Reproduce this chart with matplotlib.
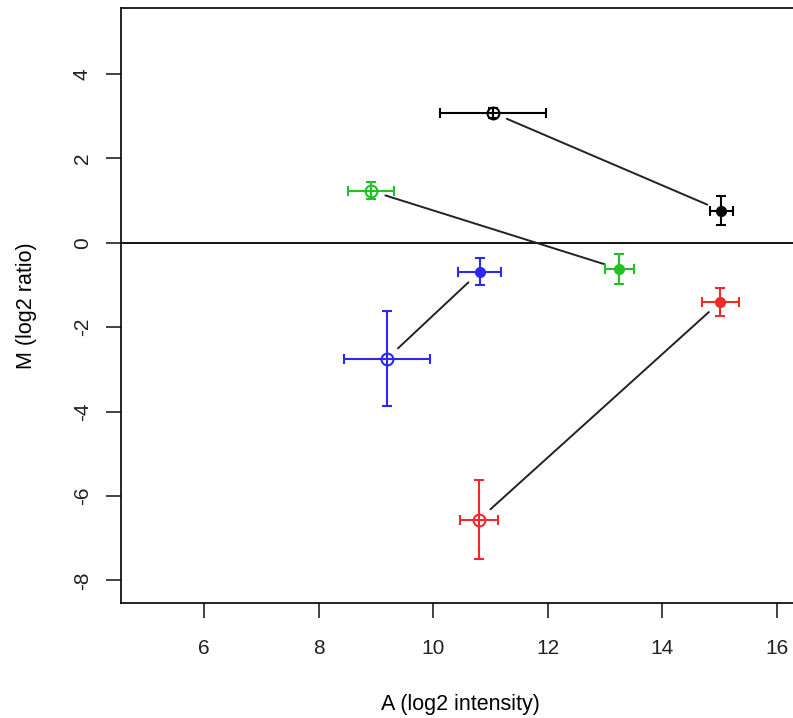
import matplotlib
matplotlib.use("Agg")
import matplotlib.pyplot as plt

plt.rcParams['font.family'] = ['Liberation Sans', 'DejaVu Sans']

# open (first) and filled (second) points for each colour group
colors = ['black', '#22c022', '#2a2aee', '#ee2a2a']

open_A = [11.04, 8.91, 9.19, 10.80]
open_M = [3.08, 1.23, -2.75, -6.56]
open_A_err = [0.93, 0.40, 0.75, 0.33]
open_M_err = [0.12, 0.20, 1.13, 0.94]

fill_A = [15.03, 13.25, 10.81, 15.01]
fill_M = [0.76, -0.62, -0.69, -1.40]
fill_A_err = [0.20, 0.25, 0.37, 0.32]
fill_M_err = [0.34, 0.36, 0.32, 0.33]

xticks = [6, 8, 10, 12, 14, 16]
yticks = [-8, -6, -4, -2, 0, 2, 4]

fig = plt.figure(figsize=(7.93, 7.18), dpi=100)
ax = fig.add_axes([0.1526, 0.160, 0.856, 0.8287])

ax.axhline(0, color='black', lw=1.3, zorder=1)

for i, c in enumerate(colors):
    ax.annotate('', xy=(fill_A[i], fill_M[i]), xytext=(open_A[i], open_M[i]),
                arrowprops=dict(arrowstyle='-', color='#222222', lw=1.4,
                                shrinkA=11, shrinkB=11))
    ax.errorbar(open_A[i], open_M[i], xerr=open_A_err[i], yerr=open_M_err[i],
                fmt='o', mfc='none', mec=c, ms=8.5, mew=1.5, color=c,
                elinewidth=1.5, capsize=3.5, capthick=1.5, zorder=3)
    ax.errorbar(fill_A[i], fill_M[i], xerr=fill_A_err[i], yerr=fill_M_err[i],
                fmt='o', mfc=c, mec=c, ms=7, color=c,
                elinewidth=1.5, capsize=3.5, capthick=1.5, zorder=3)

ax.set_xlim(4.55, 16.40)
ax.set_ylim(-8.54, 5.56)
ax.set_xticks(xticks)
ax.set_yticks(yticks)
ax.set_yticklabels([str(v) for v in yticks], rotation=90, va='center')
ax.tick_params(direction='out', length=11, width=1.2, labelsize=15,
               colors='#222222')
ax.tick_params(axis='x', pad=15)
ax.tick_params(axis='y', pad=10)
for s in ['left', 'bottom', 'top']:
    ax.spines[s].set_linewidth(1.2)
ax.spines['right'].set_visible(False)

ax.set_xlabel('A (log2 intensity)', fontsize=15.5, labelpad=26)
ax.set_ylabel('M (log2 ratio)', fontsize=15.5, labelpad=26)

fig.savefig('out.png', dpi=100)
